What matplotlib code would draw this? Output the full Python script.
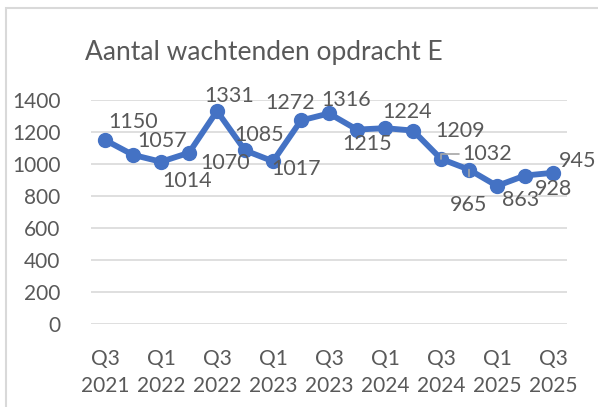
import matplotlib
matplotlib.use("Agg")
import matplotlib.pyplot as plt
from matplotlib.patches import Rectangle

title = "Aantal wachtenden opdracht E"
quarters = ["Q3 2021", "Q4 2021", "Q1 2022", "Q2 2022", "Q3 2022", "Q4 2022",
            "Q1 2023", "Q2 2023", "Q3 2023", "Q4 2023", "Q1 2024", "Q2 2024",
            "Q3 2024", "Q4 2024", "Q1 2025", "Q2 2025", "Q3 2025"]
values = [1150, 1057, 1014, 1070, 1331, 1085, 1017, 1272, 1316, 1215,
          1224, 1209, 1032, 965, 863, 928, 945]
yticks = [0, 200, 400, 600, 800, 1000, 1200, 1400]

# label placement (pixels offset from each point)
label_offsets = [(28, 18), (29, 14), (26, -19), (36, -10), (12, 15), (14, 15),
                 (23, -8), (-11, 17), (17, 13), (10, -14), (22, 16), (47, 0),
                 (46, 5), (0, -35), (24, -14), (28, -13), (25, 12)]

FONT = ["Lato", "DejaVu Sans"]
plt.rcParams['font.family'] = FONT
TXT = "#595959"
BLUE = "#4472C4"

fig = plt.figure(figsize=(5.98, 4.07), dpi=100)
fig.patches.append(Rectangle((6 / 598, -0.2), 2.0, 1 - 8 / 407 + 0.2,
                             transform=fig.transFigure, fill=False,
                             edgecolor="#D9D9D9", linewidth=1.5))

ax = fig.add_axes([91 / 598, 1 - 324 / 407, (567 - 91) / 598, (324 - 100) / 407])
x = list(range(len(values)))
ax.plot(x, values, color=BLUE, linewidth=4.2, marker="o", markersize=10,
        solid_capstyle="round", solid_joinstyle="round", zorder=3, clip_on=False)

ax.set_xlim(-0.5, len(values) - 0.5)
ax.set_ylim(0, 1400)
ax.set_yticks(yticks)
ax.set_yticklabels([str(v) for v in yticks])
ax.grid(axis="y", color="#D9D9D9", linewidth=1.2)
ax.set_axisbelow(True)
for s in ax.spines.values():
    s.set_visible(False)
ax.tick_params(length=0, labelsize=15, labelcolor=TXT)
ax.tick_params(axis="y", pad=22)
ax.tick_params(axis="x", pad=18)

tick_idx = list(range(0, len(quarters), 2))
ax.set_xticks(tick_idx)
ax.set_xticklabels([quarters[i].replace(" ", "\n") for i in tick_idx],
                   linespacing=1.45)

for i, (v, off) in enumerate(zip(values, label_offsets)):
    kw = {}
    if i == 12:
        kw = dict(arrowprops=dict(arrowstyle="-", color="#A6A6A6", lw=1.2,
                                  shrinkA=22, shrinkB=0,
                                  connectionstyle="angle,angleA=0,angleB=90,rad=0"))
    elif i == 13:
        kw = dict(arrowprops=dict(arrowstyle="-", color="#A6A6A6", lw=1.2,
                                  shrinkA=11, shrinkB=0))
    ax.annotate(str(v), (i, v), xytext=off, textcoords="offset pixels",
                ha="center", va="center", fontsize=15.5, color=TXT,
                annotation_clip=False, zorder=4, **kw)

fig.text(264 / 598, 1 - 60 / 407, title, ha="center", va="baseline",
         fontsize=19, color=TXT)

fig.savefig("out.png", dpi=100)
